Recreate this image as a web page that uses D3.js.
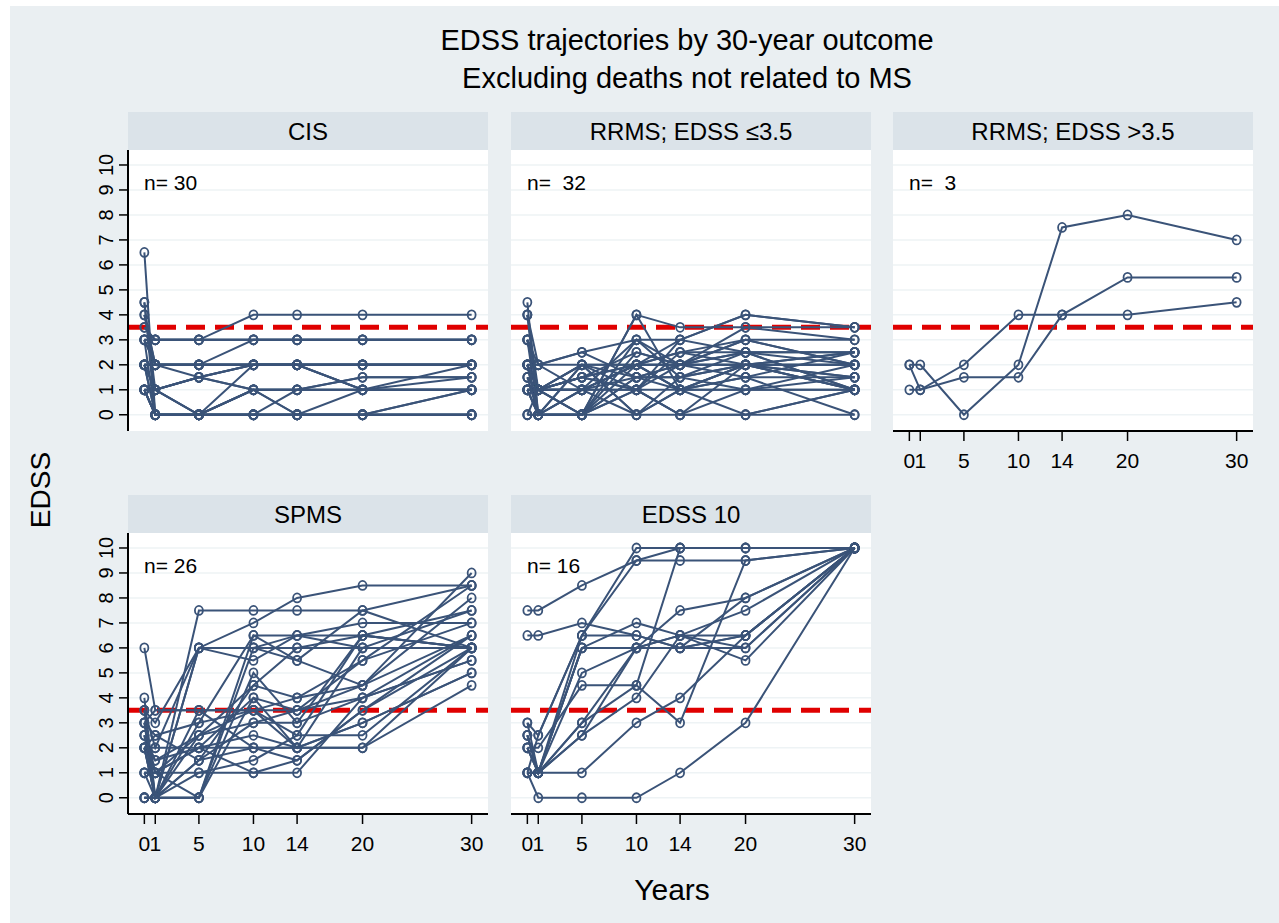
<!DOCTYPE html>
<html>
<head>
<meta charset="utf-8">
<script src="https://cdn.jsdelivr.net/npm/d3@7"></script>
<style>
  html, body { margin: 0; padding: 0; background: #ffffff; }
  svg { display: block; }
  text { font-family: "Liberation Sans", Arial, Helvetica, sans-serif; fill: #000; }
</style>
</head>
<body>
<svg id="chart" width="1279" height="923"></svg>
<script>
// ---------------- DATA ----------------
const years = [0, 1, 5, 10, 14, 20, 30];
const xTickLabels = ["0", "1", "5", "10", "14", "20", "30"];
const yTickValues = [0, 1, 2, 3, 4, 5, 6, 7, 8, 9, 10];
const thresholdEDSS = 3.5;

const titleLines = ["EDSS trajectories by 30-year outcome", "Excluding deaths not related to MS"];
const panelTitles = ["CIS", "RRMS; EDSS \u22643.5", "RRMS; EDSS >3.5", "SPMS", "EDSS 10"];
const panelNLabels = ["n= 30", "n=  32", "n=  3", "n= 26", "n= 16"];

// each row: EDSS at years 0, 1, 5, 10, 14, 20, 30
const cisTrajectories = [
  [6.5, 0, 0, 0, 0, 0, 0],
  [4.5, 1, 1.5, 2, 2, 1, 2],
  [4, 2, 2, 2, 2, 2, 2],
  [3.5, 3, 3, 4, 4, 4, 4],
  [3, 3, 3, 3, 3, 3, 3],
  [3, 2, 2, 3, 3, 3, 3],
  [2, 2, 2, 2, 2, 2, 2],
  [2, 0, 0, 2, 2, 1, 1.5],
  [2, 2, 1.5, 1, 0, 0, 1],
  [1, 1, 1.5, 2, 2, 2, 2],
  [1, 0, 0, 0, 0, 0, 0],
  [1, 1, 0, 1, 1, 1.5, 1.5],
  [2, 0, 0, 1, 1, 1, 1],
  [1, 0, 0, 0, 0, 1, 1],
  [2, 1, 0, 0, 0, 0, 0],
  [3, 3, 3, 3, 3, 3, 3],
  [2, 2, 2, 2, 2, 2, 2],
  [1, 0, 0, 1, 1, 1, 1],
  [4, 2, 2, 2, 2, 2, 2],
  [3, 2, 2, 2, 2, 2, 2],
  [2, 1, 0, 0, 0, 0, 0],
  [1, 1, 1.5, 1, 1, 1, 1],
  [4.5, 0, 0, 0, 0, 0, 0],
  [3, 0, 0, 0, 0, 0, 1],
  [2, 2, 2, 2, 2, 1, 1],
  [1, 0, 0, 1, 0, 0, 0],
  [3.5, 3, 3, 3, 3, 3, 3],
  [2, 1, 1.5, 2, 2, 2, 2],
  [1, 0, 0, 0, 1, 1.5, 1.5],
  [2, 2, 2, 2, 2, 2, 2]
];

const rrmsLowTrajectories = [
  [4.5, 0, 0, 4, 3.5, 3.5, 3.5],
  [4, 1, 0, 4, 1, 2, 2],
  [4, 2, 2.5, 3, 3, 4, 3.5],
  [3, 1, 1, 2, 2.5, 2.5, 2.5],
  [3, 0, 0, 2.5, 2, 3, 2],
  [2, 2, 2, 2, 2, 2, 2],
  [2, 1, 1.5, 1, 3, 2.5, 1],
  [2, 0, 1, 2, 2, 2.5, 2.5],
  [1.5, 1, 2, 1.5, 1.5, 2, 1],
  [1.5, 0, 0, 1, 2.5, 3, 2],
  [1, 1, 1, 1, 1, 1, 1],
  [1, 0, 0, 1.5, 2, 2, 1.5],
  [1, 1, 2, 0, 1.5, 2, 2.5],
  [0, 0, 0, 0, 0, 0, 0],
  [0, 1, 1.5, 2, 1, 1.5, 0],
  [2, 1, 0, 2, 1, 0, 1],
  [1, 0, 2, 1, 0, 2, 1.5],
  [3, 2, 1, 3, 2, 3, 3],
  [2, 1, 1.5, 2.5, 2, 2, 1],
  [1, 1, 0, 1.5, 1, 1, 2],
  [4, 0, 2, 0, 1, 2, 2.5],
  [3, 1, 1, 2, 2, 3.5, 3],
  [2, 0, 0, 3, 1.5, 2.5, 1],
  [1.5, 1, 1.5, 1, 2, 2.5, 2],
  [1, 0, 1, 1, 0, 1, 1],
  [0, 0, 1, 2, 3, 4, 3.5],
  [2, 2, 2.5, 1.5, 2, 1.5, 2.5],
  [1, 1, 1, 0, 1, 1.5, 1.5],
  [3, 1, 1.5, 2, 2.5, 2, 2],
  [2, 0, 0, 1, 0, 0, 1],
  [1, 1, 2, 2, 1, 2, 1],
  [2, 1, 1, 1.5, 1.5, 1, 1.5]
];

const rrmsHighTrajectories = [
  [2, 2, 0, 2, 7.5, 8, 7],
  [2, 1, 2, 4, 4, 4, 4.5],
  [1, 1, 1.5, 1.5, 4, 5.5, 5.5]
];

const spmsTrajectories = [
  [6, 3.5, 3.5, 3.5, 3.5, 5.5, 8.5],
  [4, 0, 7.5, 7.5, 7.5, 7.5, 8.5],
  [3.5, 2, 6, 7, 8, 8.5, 8.5],
  [3.5, 3, 6, 6, 6, 6, 6],
  [3, 0, 6, 5.5, 6.5, 7, 7],
  [3, 2.5, 3, 6.5, 6.5, 6.5, 6],
  [2.5, 1.5, 2.5, 4.5, 4, 4.5, 6.5],
  [2.5, 1, 2, 4, 2, 6, 7.5],
  [2, 0, 0, 6.5, 5.5, 4.5, 9],
  [2, 2, 2, 2, 2, 2, 6],
  [2, 0, 1.5, 3, 3, 6.5, 6],
  [1, 0, 1, 1, 1, 4, 5.5],
  [1, 1, 1, 1.5, 2.5, 2.5, 6],
  [0, 0, 0, 5, 3, 4, 6.5],
  [0, 0, 3.5, 3.5, 2, 3, 5],
  [3, 1, 2, 2.5, 2, 2, 4.5],
  [2.5, 0, 1.5, 4.5, 6, 6.5, 6],
  [0, 0, 0, 6, 5.5, 7.5, 6],
  [1, 1, 2.5, 3, 3.5, 4, 5.5],
  [2, 1.5, 2, 1, 1.5, 3.5, 6.5],
  [3, 3.5, 3.5, 2, 2, 3, 5],
  [3.5, 0, 2.5, 3.5, 4, 5.5, 7],
  [2, 2.5, 1.5, 2, 1.5, 3.5, 6],
  [0, 0, 6, 6, 6.5, 6, 6],
  [1, 1, 0, 4, 3.5, 4.5, 8],
  [2, 0, 3, 3.5, 2.5, 6.5, 7.5]
];

const edss10Trajectories = [
  [7.5, 7.5, 8.5, 9.5, 10, 10, 10],
  [6.5, 6.5, 7, 6.5, 6, 6.5, 10],
  [3, 2.5, 6.5, 10, 10, 10, 10],
  [2.5, 1, 6, 6, 6, 6, 10],
  [2, 1, 6.5, 9.5, 9.5, 9.5, 10],
  [2.5, 1, 5, 6, 7.5, 8, 10],
  [2, 2, 4.5, 4.5, 3, 9.5, 10],
  [1, 1, 3, 6, 6.5, 7.5, 10],
  [1, 1, 1, 3, 4, 6.5, 10],
  [1, 0, 0, 0, 1, 3, 10],
  [3, 1, 2.5, 4, 6.5, 6.5, 10],
  [2, 1, 6, 7, 6.5, 5.5, 10],
  [1, 1, 3, 4.5, 10, 10, 10],
  [2.5, 1, 6, 6, 6, 6.5, 10],
  [1, 2.5, 6.5, 6.5, 6, 8, 10],
  [2, 1, 2.5, 6, 6.5, 6, 10]
];

const panelData = [cisTrajectories, rrmsLowTrajectories, rrmsHighTrajectories, spmsTrajectories, edss10Trajectories];

// ---------------- LAYOUT ----------------
const W = 1279, H = 923;
const colX = [128, 511, 893];
const rowTop = [112, 495];
const stripH = 38;
const plotW = 360, plotH = 281;
// panel index -> [col, row, showYAxis, showXAxis]
const panelPos = [
  [0, 0, true, false],
  [1, 0, false, false],
  [2, 0, false, true],
  [0, 1, true, true],
  [1, 1, false, true]
];

const colors = {
  bg: "#eaeff2",
  strip: "#dbe3e9",
  plot: "#ffffff",
  grid: "#eef3f5",
  line: "#3a5378",
  ref: "#e00000"
};

const svg = d3.select("#chart");

svg.append("rect").attr("x", 10).attr("y", 6).attr("width", W - 10).attr("height", H - 6).attr("fill", colors.bg);

svg.selectAll("text.title").data(titleLines).join("text")
  .attr("class", "title")
  .attr("x", 687).attr("y", (d, i) => 50 + i * 38)
  .attr("text-anchor", "middle")
  .attr("font-size", 29)
  .text(d => d);

const x = d3.scaleLinear().domain([-1.5, 31.5]).range([0, plotW]);
const y = d3.scaleLinear().domain([-0.65, 10.6]).range([plotH, 0]);

const lineGen = d3.line().x((d, i) => x(years[i])).y(d => y(d));

panelData.forEach((trajs, p) => {
  const [c, r, showY, showX] = panelPos[p];
  const gx = colX[c], gy = rowTop[r];
  const g = svg.append("g").attr("transform", `translate(${gx},${gy})`);

  // strip
  g.append("rect").attr("x", 0).attr("y", 0).attr("width", plotW).attr("height", stripH).attr("fill", colors.strip);
  g.append("text").attr("x", plotW / 2).attr("y", 28).attr("text-anchor", "middle")
    .attr("font-size", 24).text(panelTitles[p]);

  const pg = g.append("g").attr("transform", `translate(0,${stripH})`);
  pg.append("rect").attr("width", plotW).attr("height", plotH).attr("fill", colors.plot);

  // grid
  pg.selectAll("line.grid").data(yTickValues).join("line")
    .attr("class", "grid")
    .attr("x1", 0).attr("x2", plotW)
    .attr("y1", d => y(d)).attr("y2", d => y(d))
    .attr("stroke", colors.grid).attr("stroke-width", 1.5);

  // reference line
  pg.append("line")
    .attr("x1", 0).attr("x2", plotW)
    .attr("y1", y(thresholdEDSS)).attr("y2", y(thresholdEDSS))
    .attr("stroke", colors.ref).attr("stroke-width", 5)
    .attr("stroke-dasharray", "19,10");

  // trajectories
  pg.selectAll("path.traj").data(trajs).join("path")
    .attr("class", "traj")
    .attr("d", d => lineGen(d))
    .attr("fill", "none")
    .attr("stroke", colors.line).attr("stroke-width", 2);

  const pts = [];
  trajs.forEach(t => t.forEach((v, i) => pts.push([years[i], v])));
  pg.selectAll("ellipse.pt").data(pts).join("ellipse")
    .attr("class", "pt")
    .attr("cx", d => x(d[0])).attr("cy", d => y(d[1]))
    .attr("rx", 4).attr("ry", 4.5)
    .attr("fill", "none")
    .attr("stroke", colors.line).attr("stroke-width", 1.8);

  // n label
  pg.append("text").attr("x", 16).attr("y", 40)
    .attr("font-size", 21).attr("xml:space", "preserve").style("white-space", "pre")
    .text(panelNLabels[p]);

  if (showY) {
    const ya = pg.append("g");
    ya.append("line").attr("x1", 0).attr("x2", 0).attr("y1", 0).attr("y2", plotH)
      .attr("stroke", "#000").attr("stroke-width", 2);
    ya.selectAll("line.yt").data(yTickValues).join("line")
      .attr("class", "yt")
      .attr("x1", -9).attr("x2", 0).attr("y1", d => y(d)).attr("y2", d => y(d))
      .attr("stroke", "#000").attr("stroke-width", 1.5);
    ya.selectAll("text.yl").data(yTickValues).join("text")
      .attr("class", "yl")
      .attr("transform", d => `translate(-15.5,${y(d)}) rotate(-90)`)
      .attr("text-anchor", "middle")
      .attr("font-size", 20)
      .text(d => d);
  }
  if (showX) {
    const xa = pg.append("g").attr("transform", `translate(0,${plotH})`);
    xa.append("line").attr("x1", 0).attr("x2", plotW).attr("y1", 0).attr("y2", 0)
      .attr("stroke", "#000").attr("stroke-width", 2);
    xa.selectAll("line.xt").data(years).join("line")
      .attr("class", "xt")
      .attr("x1", d => x(d)).attr("x2", d => x(d)).attr("y1", 0).attr("y2", 10)
      .attr("stroke", "#000").attr("stroke-width", 1.5);
    xa.selectAll("text.xl").data(years).join("text")
      .attr("class", "xl")
      .attr("x", d => x(d)).attr("y", 37)
      .attr("text-anchor", "middle")
      .attr("font-size", 21)
      .text((d, i) => xTickLabels[i]);
  }
});

// axis titles
svg.append("text").attr("transform", "translate(50,490) rotate(-90)")
  .attr("text-anchor", "middle").attr("font-size", 28).text("EDSS");
svg.append("text").attr("x", 672).attr("y", 900)
  .attr("text-anchor", "middle").attr("font-size", 30).text("Years");
</script>
</body>
</html>
